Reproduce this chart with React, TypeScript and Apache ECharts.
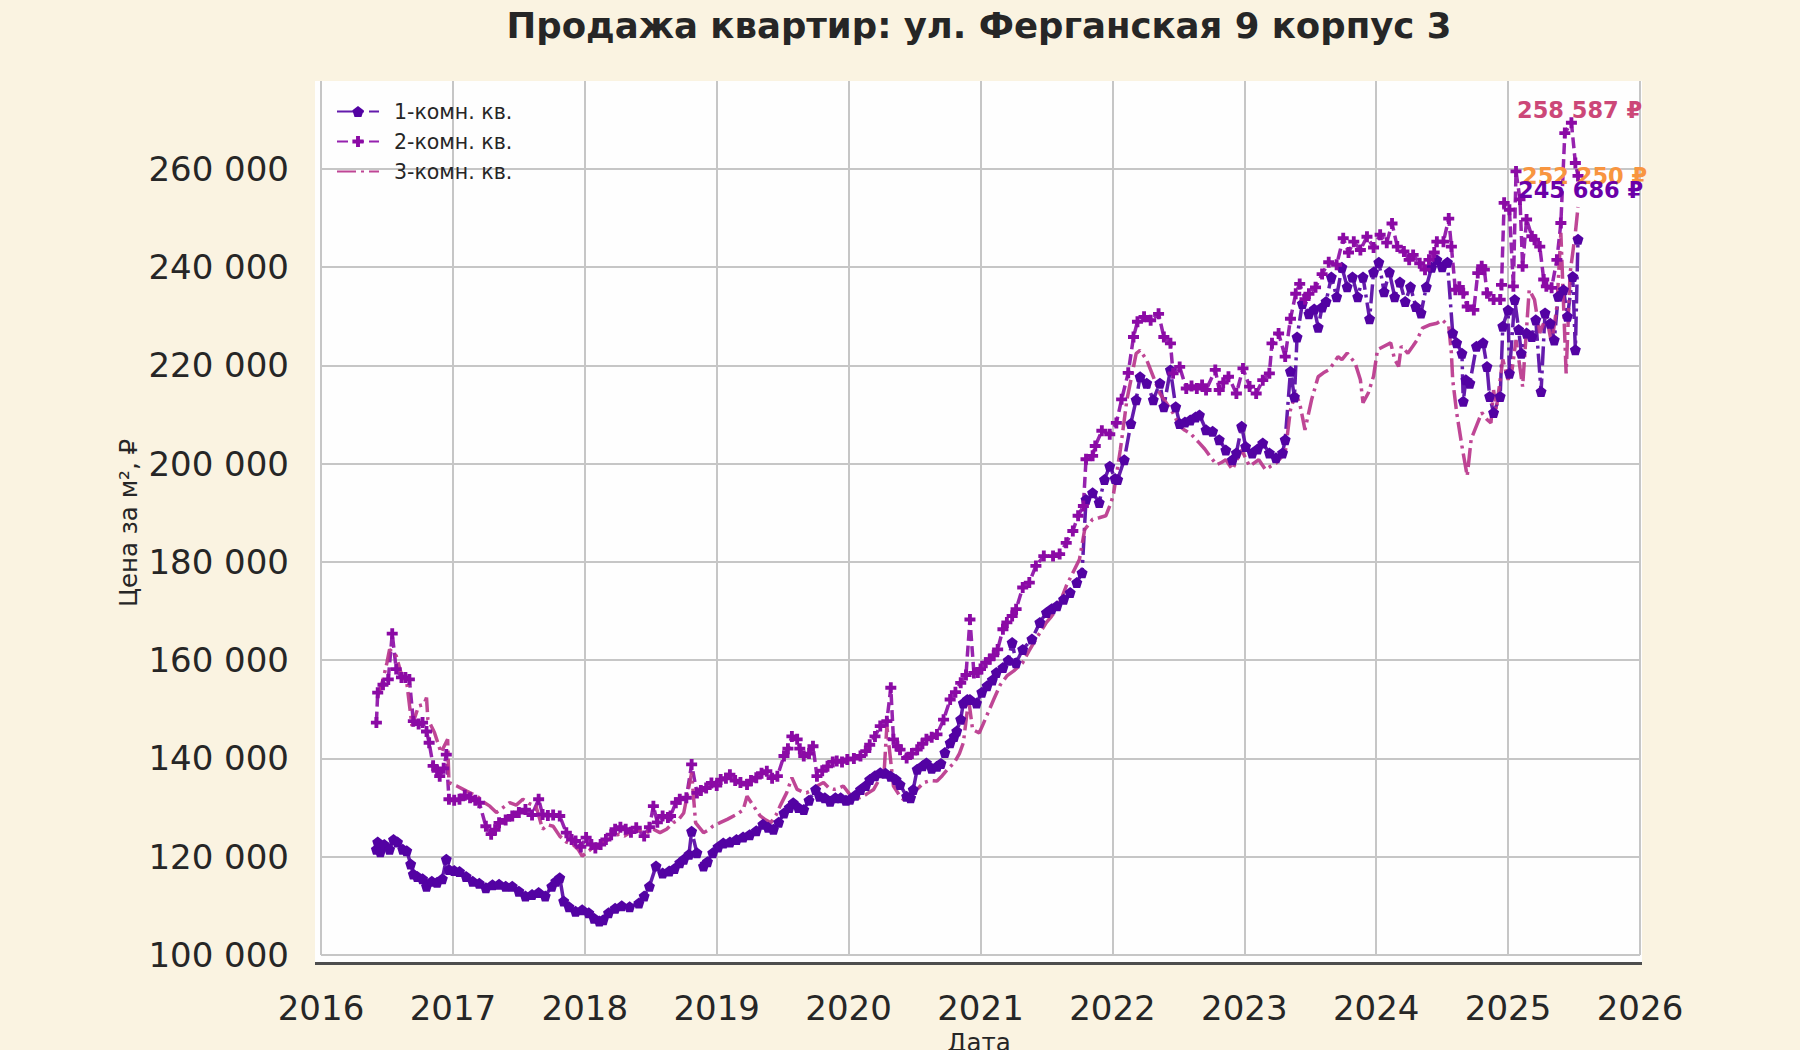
import { useRef, useEffect } from 'react'
import * as echarts from 'echarts'

// [decimal year, price per m²]
const room1: [number, number][] = [
  [2016.42, 121500], [2016.43, 123000], [2016.45, 121000], [2016.48, 122500], [2016.52, 121500],
  [2016.55, 123500], [2016.58, 123000], [2016.62, 121500], [2016.65, 121200], [2016.68, 118500],
  [2016.70, 116500], [2016.73, 116000], [2016.77, 115500], [2016.80, 114000], [2016.84, 115000],
  [2016.88, 114800], [2016.92, 115500], [2016.95, 119500], [2016.97, 117400], [2017.01, 117200],
  [2017.05, 117000], [2017.10, 116000], [2017.15, 115000], [2017.20, 114600], [2017.25, 113700],
  [2017.30, 114300], [2017.35, 114400], [2017.40, 114000], [2017.45, 114000], [2017.50, 113000],
  [2017.55, 112000], [2017.60, 112300], [2017.65, 112700], [2017.70, 112000], [2017.75, 114000],
  [2017.78, 115000], [2017.81, 115700], [2017.84, 111000], [2017.88, 109800], [2017.93, 108900],
  [2017.98, 109200], [2018.03, 108600], [2018.07, 107500], [2018.11, 106900], [2018.14, 107200],
  [2018.18, 108600], [2018.23, 109500], [2018.28, 110000], [2018.34, 109800], [2018.41, 110600],
  [2018.45, 112000], [2018.49, 114000], [2018.54, 118100], [2018.59, 116700], [2018.64, 117100],
  [2018.68, 117600], [2018.72, 118800], [2018.75, 119500], [2018.79, 120500], [2018.81, 125200],
  [2018.85, 120800], [2018.90, 118100], [2018.93, 119000], [2018.97, 120800], [2019.01, 122000],
  [2019.05, 122800], [2019.10, 123000], [2019.15, 123500], [2019.20, 124000], [2019.25, 124500],
  [2019.30, 125300], [2019.35, 126600], [2019.39, 126000], [2019.43, 125600], [2019.47, 127000],
  [2019.51, 128900], [2019.55, 130000], [2019.58, 131000], [2019.62, 130000], [2019.66, 129600],
  [2019.70, 131500], [2019.75, 133700], [2019.78, 132300], [2019.82, 132000], [2019.86, 131300],
  [2019.90, 132000], [2019.94, 132000], [2019.98, 131500], [2020.01, 131700], [2020.05, 132500],
  [2020.09, 133700], [2020.13, 134500], [2020.16, 135700], [2020.20, 136500], [2020.24, 137100],
  [2020.28, 137000], [2020.32, 136400], [2020.36, 135700], [2020.39, 134700], [2020.44, 132300],
  [2020.47, 132000], [2020.49, 133700], [2020.52, 137800], [2020.56, 138500], [2020.59, 139100],
  [2020.63, 138000], [2020.67, 138400], [2020.70, 139000], [2020.73, 141200], [2020.77, 143200],
  [2020.80, 144500], [2020.82, 145600], [2020.85, 148000], [2020.87, 151300], [2020.90, 152000],
  [2020.92, 152000], [2020.97, 151300], [2021.01, 153500], [2021.05, 154800], [2021.09, 156000],
  [2021.12, 157500], [2021.17, 158500], [2021.21, 160000], [2021.24, 163600], [2021.27, 159500],
  [2021.32, 162200], [2021.39, 164300], [2021.45, 167700], [2021.50, 169700], [2021.54, 170500],
  [2021.58, 171100], [2021.63, 172400], [2021.68, 173800], [2021.73, 175800], [2021.77, 177800],
  [2021.80, 192700], [2021.85, 194100], [2021.90, 192100], [2021.94, 196800], [2021.98, 199500],
  [2022.02, 197000], [2022.04, 196800], [2022.09, 200800], [2022.14, 208200], [2022.18, 213000],
  [2022.21, 217700], [2022.26, 216400], [2022.31, 213000], [2022.36, 216400], [2022.39, 211600],
  [2022.44, 219100], [2022.48, 211600], [2022.51, 208200], [2022.55, 208500], [2022.59, 208900],
  [2022.63, 209500], [2022.66, 209900], [2022.71, 206900], [2022.76, 206600], [2022.81, 204900],
  [2022.86, 202800], [2022.91, 200800], [2022.94, 202200], [2022.98, 207600], [2023.01, 203500],
  [2023.06, 202200], [2023.10, 203000], [2023.14, 204200], [2023.19, 202200], [2023.24, 201200],
  [2023.29, 202200], [2023.31, 204900], [2023.35, 218800], [2023.38, 213600], [2023.40, 225800],
  [2023.44, 232600], [2023.49, 230500], [2023.53, 231500], [2023.56, 227800], [2023.59, 231900],
  [2023.62, 233000], [2023.66, 238000], [2023.70, 234000], [2023.74, 240000], [2023.78, 236000],
  [2023.82, 238000], [2023.86, 234000], [2023.90, 238000], [2023.95, 229500], [2023.98, 239000],
  [2024.02, 241000], [2024.06, 235000], [2024.10, 239000], [2024.14, 234000], [2024.18, 237000],
  [2024.22, 233000], [2024.26, 236000], [2024.30, 232000], [2024.34, 230700], [2024.38, 236000],
  [2024.42, 240000], [2024.46, 241500], [2024.50, 240100], [2024.54, 241000], [2024.58, 226600],
  [2024.61, 224600], [2024.65, 222500], [2024.66, 212700], [2024.68, 217100], [2024.71, 216400],
  [2024.76, 223900], [2024.81, 224600], [2024.84, 219800], [2024.86, 213700], [2024.89, 210400],
  [2024.94, 213700], [2024.96, 228000], [2025.00, 231300], [2025.01, 218400], [2025.05, 233400],
  [2025.08, 227300], [2025.10, 222500], [2025.14, 226600], [2025.18, 225900], [2025.21, 229300],
  [2025.25, 214700], [2025.28, 230700], [2025.32, 228600], [2025.35, 225200], [2025.38, 234100],
  [2025.42, 235400], [2025.45, 230000], [2025.49, 238100], [2025.51, 223200], [2025.53, 245686],
]

const room2: [number, number][] = [
  [2016.42, 147300], [2016.43, 153400], [2016.47, 155000], [2016.51, 156100], [2016.54, 165400],
  [2016.57, 158200], [2016.61, 156500], [2016.64, 156500], [2016.67, 156100], [2016.70, 147600],
  [2016.74, 147000], [2016.77, 147300], [2016.80, 145500], [2016.82, 143200], [2016.85, 138500],
  [2016.88, 137500], [2016.90, 136400], [2016.93, 138000], [2016.95, 140800], [2016.97, 131700],
  [2017.01, 131500], [2017.05, 131700], [2017.09, 132500], [2017.13, 132000], [2017.17, 131500],
  [2017.20, 131000], [2017.25, 126200], [2017.29, 124600], [2017.32, 125500], [2017.35, 126900],
  [2017.40, 127500], [2017.45, 128300], [2017.50, 129000], [2017.55, 129600], [2017.60, 128500],
  [2017.65, 131700], [2017.68, 128600], [2017.72, 128400], [2017.76, 128500], [2017.81, 128300],
  [2017.86, 124900], [2017.90, 123500], [2017.93, 123200], [2017.97, 122000], [2018.01, 123900],
  [2018.05, 122500], [2018.08, 121800], [2018.12, 122500], [2018.16, 123500], [2018.20, 124500],
  [2018.23, 125600], [2018.27, 126000], [2018.31, 125600], [2018.35, 125000], [2018.39, 125900],
  [2018.45, 124200], [2018.49, 126000], [2018.52, 130300], [2018.55, 127000], [2018.59, 128300],
  [2018.63, 128000], [2018.65, 128300], [2018.69, 131000], [2018.72, 131700], [2018.77, 132000],
  [2018.81, 138800], [2018.85, 133000], [2018.88, 133500], [2018.92, 134000], [2018.96, 135000],
  [2019.00, 134500], [2019.03, 135700], [2019.07, 136000], [2019.10, 136700], [2019.14, 135500],
  [2019.18, 135100], [2019.23, 134700], [2019.26, 135500], [2019.30, 136100], [2019.34, 137000],
  [2019.38, 137400], [2019.42, 136000], [2019.46, 136400], [2019.51, 140500], [2019.54, 142000],
  [2019.57, 144500], [2019.61, 143900], [2019.63, 142000], [2019.66, 140500], [2019.70, 141000],
  [2019.73, 142500], [2019.76, 136400], [2019.80, 137500], [2019.84, 138400], [2019.88, 139300],
  [2019.91, 139500], [2019.95, 139300], [2019.99, 139800], [2020.04, 140000], [2020.09, 140500],
  [2020.13, 141500], [2020.16, 142800], [2020.20, 144500], [2020.24, 146600], [2020.29, 147600],
  [2020.32, 154400], [2020.34, 143900], [2020.37, 142500], [2020.39, 141800], [2020.44, 140100],
  [2020.48, 141000], [2020.52, 141800], [2020.56, 143000], [2020.59, 143900], [2020.63, 144300],
  [2020.67, 144900], [2020.72, 147900], [2020.77, 152000], [2020.81, 153500], [2020.85, 155400],
  [2020.89, 157000], [2020.92, 168300], [2020.95, 157400], [2020.98, 157500], [2021.00, 158200],
  [2021.04, 159500], [2021.07, 160200], [2021.10, 161000], [2021.13, 162200], [2021.17, 166300],
  [2021.20, 167700], [2021.24, 169000], [2021.27, 170400], [2021.32, 174800], [2021.37, 175800],
  [2021.42, 179200], [2021.48, 181200], [2021.55, 181200], [2021.60, 181600], [2021.65, 183900],
  [2021.70, 186300], [2021.74, 189400], [2021.78, 191400], [2021.80, 200900], [2021.85, 201600],
  [2021.87, 203600], [2021.92, 206700], [2021.98, 206000], [2022.03, 208300], [2022.07, 213100],
  [2022.12, 218500], [2022.16, 225800], [2022.19, 228900], [2022.24, 229900], [2022.29, 229200],
  [2022.35, 230500], [2022.39, 225800], [2022.44, 224500], [2022.46, 218400], [2022.51, 219700],
  [2022.56, 215300], [2022.60, 215800], [2022.64, 215300], [2022.68, 216000], [2022.71, 215000],
  [2022.78, 219100], [2022.81, 215000], [2022.84, 216500], [2022.88, 217700], [2022.94, 214300],
  [2022.99, 219400], [2023.04, 215700], [2023.09, 214300], [2023.14, 217000], [2023.19, 218400],
  [2023.21, 224500], [2023.26, 226500], [2023.31, 221800], [2023.35, 229500], [2023.39, 234600],
  [2023.42, 236600], [2023.46, 233500], [2023.49, 234600], [2023.54, 235900], [2023.59, 238600],
  [2023.64, 241000], [2023.70, 240500], [2023.75, 245900], [2023.79, 243000], [2023.83, 245200],
  [2023.88, 243500], [2023.93, 246200], [2023.98, 244000], [2024.03, 246600], [2024.08, 245000],
  [2024.12, 248900], [2024.16, 244200], [2024.21, 243200], [2024.25, 241500], [2024.28, 242500],
  [2024.33, 240800], [2024.37, 239500], [2024.40, 241500], [2024.44, 243000], [2024.46, 245200],
  [2024.51, 245200], [2024.55, 249900], [2024.57, 244200], [2024.60, 235400], [2024.63, 236000],
  [2024.66, 234700], [2024.69, 232000], [2024.74, 231300], [2024.77, 238800], [2024.80, 240200],
  [2024.82, 239500], [2024.84, 234700], [2024.89, 233400], [2024.94, 233400], [2024.95, 236400],
  [2024.97, 253100], [2025.01, 251700], [2025.04, 236100], [2025.06, 259500], [2025.09, 253800],
  [2025.11, 240200], [2025.14, 249700], [2025.18, 246300], [2025.20, 245600], [2025.24, 244200],
  [2025.27, 237500], [2025.29, 236100], [2025.33, 235800], [2025.37, 241500], [2025.40, 249000],
  [2025.43, 267300], [2025.48, 269400], [2025.51, 261200], [2025.53, 258587],
]

const room3: [number, number][] = [
  [2016.43, 152700], [2016.47, 156000], [2016.50, 159500], [2016.52, 162200], [2016.57, 160900],
  [2016.61, 157100], [2016.65, 155500], [2016.69, 146600], [2016.74, 150700], [2016.78, 151000],
  [2016.80, 152400], [2016.81, 148000], [2016.86, 145300], [2016.91, 141200], [2016.96, 143900],
  [2016.97, 135100], [2017.03, 134400], [2017.10, 133400], [2017.18, 132400], [2017.24, 131000],
  [2017.28, 130300], [2017.33, 129000], [2017.38, 130000], [2017.43, 131000], [2017.48, 130500],
  [2017.53, 131700], [2017.58, 130800], [2017.63, 130300], [2017.68, 125600], [2017.72, 126500],
  [2017.76, 126200], [2017.81, 124200], [2017.86, 123000], [2017.91, 122500], [2017.95, 121500],
  [2017.98, 120100], [2018.02, 121000], [2018.06, 121800], [2018.11, 122500], [2018.16, 123200],
  [2018.21, 124000], [2018.26, 124600], [2018.30, 124200], [2018.34, 124900], [2018.39, 125300],
  [2018.44, 125600], [2018.48, 125000], [2018.52, 125600], [2018.57, 124900], [2018.62, 125600],
  [2018.67, 126900], [2018.71, 127500], [2018.75, 128900], [2018.81, 137100], [2018.84, 126900],
  [2018.90, 124900], [2018.94, 125500], [2018.97, 126200], [2019.03, 127000], [2019.08, 127600],
  [2019.15, 128600], [2019.20, 129500], [2019.23, 132300], [2019.28, 130300], [2019.33, 128300],
  [2019.37, 127500], [2019.41, 126900], [2019.45, 128500], [2019.48, 130300], [2019.53, 133000],
  [2019.57, 136100], [2019.61, 133700], [2019.65, 133200], [2019.68, 133000], [2019.72, 133500],
  [2019.76, 134400], [2019.81, 135100], [2019.85, 134000], [2019.89, 133700], [2019.93, 134000],
  [2019.96, 134400], [2020.00, 133000], [2020.04, 131700], [2020.08, 132000], [2020.11, 132300],
  [2020.15, 133000], [2020.19, 133700], [2020.24, 136100], [2020.27, 137500], [2020.29, 146600],
  [2020.34, 134400], [2020.39, 132300], [2020.43, 131300], [2020.46, 132000], [2020.49, 133000],
  [2020.53, 134000], [2020.57, 135100], [2020.62, 135500], [2020.67, 135400], [2020.71, 136500],
  [2020.75, 137800], [2020.80, 139100], [2020.84, 141000], [2020.87, 143200], [2020.91, 152000],
  [2020.94, 145900], [2020.99, 145200], [2021.02, 147000], [2021.06, 149500], [2021.10, 152000],
  [2021.15, 155000], [2021.20, 156800], [2021.26, 158000], [2021.32, 159500], [2021.37, 162000],
  [2021.42, 164300], [2021.46, 166000], [2021.50, 167700], [2021.54, 169000], [2021.58, 170400],
  [2021.62, 173000], [2021.65, 175100], [2021.70, 177800], [2021.75, 180500], [2021.79, 186600],
  [2021.85, 188700], [2021.90, 189000], [2021.95, 189400], [2021.99, 192100], [2022.01, 194100],
  [2022.06, 202800], [2022.11, 213000], [2022.18, 222400], [2022.21, 223100], [2022.26, 221100],
  [2022.31, 217700], [2022.36, 214300], [2022.41, 212300], [2022.46, 210300], [2022.51, 207600],
  [2022.55, 206800], [2022.59, 206200], [2022.66, 204200], [2022.70, 203000], [2022.74, 201500],
  [2022.79, 199800], [2022.83, 200300], [2022.86, 200800], [2022.91, 198800], [2022.98, 202800],
  [2023.04, 199500], [2023.11, 200800], [2023.16, 198800], [2023.20, 199500], [2023.24, 200100],
  [2023.31, 202200], [2023.35, 211000], [2023.39, 214300], [2023.42, 212300], [2023.46, 206900],
  [2023.51, 213000], [2023.56, 217700], [2023.60, 218500], [2023.64, 219100], [2023.68, 220500],
  [2023.71, 221800], [2023.74, 221200], [2023.78, 222500], [2023.84, 220500], [2023.88, 217100],
  [2023.90, 212400], [2023.94, 214400], [2023.98, 217800], [2024.01, 223200], [2024.06, 223900],
  [2024.11, 224600], [2024.14, 221200], [2024.17, 219800], [2024.19, 223900], [2024.24, 222500],
  [2024.28, 224000], [2024.31, 225200], [2024.35, 227600], [2024.41, 228300], [2024.46, 228600],
  [2024.50, 229300], [2024.55, 228000], [2024.57, 222500], [2024.58, 217100], [2024.61, 210400],
  [2024.65, 203600], [2024.69, 197500], [2024.72, 205000], [2024.76, 207700], [2024.80, 210400],
  [2024.84, 209000], [2024.87, 208300], [2024.89, 215000], [2024.91, 211000], [2024.96, 221200],
  [2025.00, 217100], [2025.03, 219100], [2025.06, 225200], [2025.11, 215700], [2025.16, 235400],
  [2025.20, 233400], [2025.24, 226600], [2025.29, 230000], [2025.33, 224500], [2025.37, 232000],
  [2025.40, 247000], [2025.44, 218400], [2025.47, 238800], [2025.51, 247000], [2025.53, 252250],
]

const seriesNames = ['1-комн. кв.', '2-комн. кв.', '3-комн. кв.']
const seriesColors = ['#5302a3', '#8b0aa5', '#b83289']
const lastLabels = ['258 587 ₽', '252 250 ₽', '245 686 ₽']
const lastLabelColors = ['#cc4778', '#f89540', '#6a00a8']

const FONT = '"DejaVu Sans", Verdana, sans-serif'
const pentagon = 'path://M0,-1L0.951,-0.309L0.588,0.809L-0.588,0.809L-0.951,-0.309Z'
const plus = 'path://M-0.35,-1H0.35V-0.35H1V0.35H0.35V1H-0.35V0.35H-1V-0.35H-0.35Z'

const fmt = (v: number) => String(v).replace(/\B(?=(\d{3})+(?!\d))/g, ' ')

function App() {
  const chartRef = useRef<HTMLDivElement>(null)

  useEffect(() => {
    if (!chartRef.current) return
    const chart = echarts.init(chartRef.current, null, { renderer: 'svg' })

    const option = {
      animation: false,
      backgroundColor: '#faf3e1',
      grid: { left: 321, right: 160, top: 81, bottom: 95 },
      legend: {
        orient: 'vertical',
        left: 331,
        top: 96,
        itemWidth: 42,
        itemHeight: 14,
        itemGap: 9,
        data: [
          { name: seriesNames[0] },
          { name: seriesNames[1] },
          { name: seriesNames[2], itemStyle: { opacity: 0 } },
        ],
        textStyle: { fontFamily: FONT, fontSize: 20.5, color: '#262626', padding: [0, 0, 0, 10] },
      },
      xAxis: {
        type: 'value',
        min: 2016,
        max: 2026,
        interval: 1,
        axisLine: { show: false },
        axisTick: { show: false },
        splitLine: { show: true, lineStyle: { color: '#c6c6c6', width: 2 } },
        axisLabel: {
          margin: 36,
          fontFamily: FONT,
          fontSize: 34,
          color: '#262626',
          formatter: (v: number) => String(v),
        },
      },
      yAxis: {
        type: 'value',
        min: 100000,
        max: 277900,
        interval: 20000,
        axisLine: { show: false },
        axisTick: { show: false },
        splitLine: { show: true, showMaxLine: false, lineStyle: { color: '#c6c6c6', width: 2 } },
        axisLabel: {
          margin: 32,
          showMaxLabel: false,
          fontFamily: FONT,
          fontSize: 34,
          color: '#262626',
          formatter: (v: number) => (v % 20000 === 0 ? fmt(v) : ''),
        },
      },
      graphic: [
        {
          type: 'rect',
          z: -100,
          shape: { x: 315, y: 81, width: 1327, height: 883 },
          style: { fill: '#fefefe' },
        },
        {
          type: 'line',
          z: 100,
          shape: { x1: 315, y1: 963.5, x2: 1642, y2: 963.5 },
          style: { stroke: '#4d4d4d', lineWidth: 3 },
        },
        {
          type: 'text',
          x: 979,
          y: 25,
          style: {
            text: 'Продажа квартир: ул. Ферганская 9 корпус 3',
            fontFamily: FONT,
            fontSize: 35.5,
            fontWeight: 'bold',
            fill: '#262626',
            align: 'center',
            verticalAlign: 'middle',
          },
        },
        {
          type: 'text',
          x: 979,
          y: 1042,
          style: {
            text: 'Дата',
            fontFamily: FONT,
            fontSize: 24.5,
            fill: '#262626',
            align: 'center',
            verticalAlign: 'middle',
          },
        },
        {
          type: 'text',
          x: 128,
          y: 523,
          rotation: Math.PI / 2,
          style: {
            text: 'Цена за м², ₽',
            fontFamily: FONT,
            fontSize: 24.5,
            fill: '#262626',
            align: 'center',
            verticalAlign: 'middle',
          },
        },
        ...lastLabels.map((t, i) => ({
          type: 'text',
          z: 100,
          x: [1517, 1522, 1518][i],
          y: [110, 176, 190][i],
          style: {
            text: t,
            fontFamily: FONT,
            fontSize: 22.5,
            fontWeight: 'bold',
            fill: lastLabelColors[i],
            align: 'left',
            verticalAlign: 'middle',
          },
        })),
      ],
      series: [
        {
          name: seriesNames[0],
          type: 'line',
          data: room1,
          color: seriesColors[0],
          symbol: pentagon,
          symbolSize: 11,
          lineStyle: { width: 3.5, type: [19, 5, 3, 5], opacity: 0.9 },
          itemStyle: { color: seriesColors[0] },
        },
        {
          name: seriesNames[1],
          type: 'line',
          data: room2,
          color: seriesColors[1],
          symbol: plus,
          symbolSize: 11,
          lineStyle: { width: 3.5, type: [11, 5], opacity: 0.9 },
          itemStyle: { color: seriesColors[1] },
        },
        {
          name: seriesNames[2],
          type: 'line',
          data: room3,
          color: seriesColors[2],
          symbol: 'none',
          lineStyle: { width: 3.5, type: [19, 5, 3, 5], opacity: 0.9 },
          itemStyle: { color: seriesColors[2] },
        },
      ],
    }

    chart.setOption(option as any)

    const handleResize = () => chart.resize()
    window.addEventListener('resize', handleResize)
    return () => {
      window.removeEventListener('resize', handleResize)
      chart.dispose()
    }
  }, [])

  return (
    <div
      ref={chartRef}
      style={{ position: 'fixed', left: 0, top: 0, width: '1800px', height: '1050px' }}
    ></div>
  )
}

export default App
